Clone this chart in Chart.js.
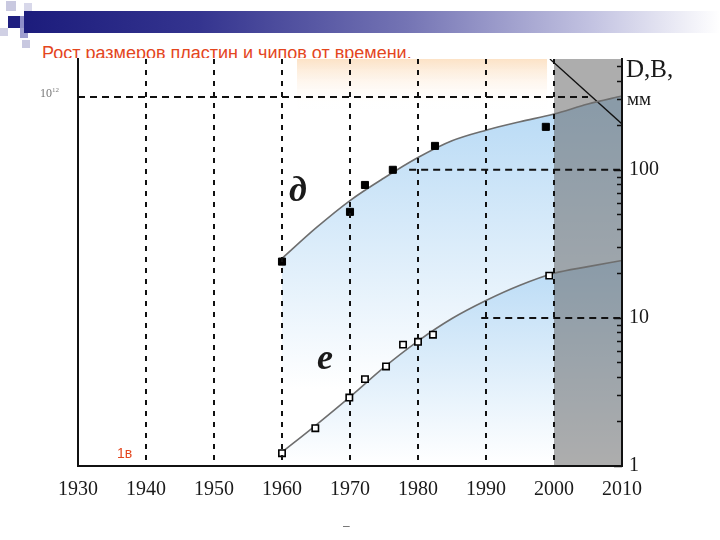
<!DOCTYPE html>
<html>
<head>
<meta charset="utf-8">
<script src="https://cdn.jsdelivr.net/npm/chart.js@4/dist/chart.umd.min.js"></script>
<style>
  html, body { margin: 0; padding: 0; background: #fff; }
  #page { position: relative; width: 720px; height: 540px; overflow: hidden; background: #fff; }
  .sq { position: absolute; }
  #bar { position: absolute; left: 24px; top: 11px; width: 696px; height: 22px;
         background: linear-gradient(to right, #1c1c7c 0%, #34348f 25%, #7474b4 55%, #c4c4e2 82%, #ffffff 100%); }
  #title { position: absolute; left: 42px; top: 43px; font: 18px "Liberation Sans", Arial, sans-serif; color: #e4461e; white-space: nowrap; }
  #sheet { position: absolute; left: 0; top: 58px; width: 720px; height: 482px; background: #fff; }
  #wrap { position: absolute; left: 0; top: 40px; width: 720px; height: 500px; }
  .note { position: absolute; white-space: nowrap; }
  .serif { font-family: "Liberation Serif", "Times New Roman", serif; color: #1a1a1a; }
</style>
</head>
<body>
<div id="page">
  <div class="sq" style="left:6px;top:1px;width:10px;height:10px;background:#c9c9e0"></div>
  <div class="sq" style="left:24px;top:3px;width:8px;height:8px;background:#d8d8ea"></div>
  <div class="sq" style="left:8px;top:16px;width:12px;height:12px;background:#1f1f80"></div>
  <div class="sq" style="left:20px;top:16px;width:12px;height:12px;background:#8e8ec8"></div>
  <div class="sq" style="left:0px;top:28px;width:8px;height:8px;background:#d0d0e4"></div>
  <div class="sq" style="left:20px;top:28px;width:8px;height:10px;background:#a0a0d0"></div>
  <div class="sq" style="left:22px;top:40px;width:8px;height:8px;background:#c8c8e0"></div>
  <div id="bar"></div>
  <div id="title">Рост размеров пластин и чипов от времени.</div>
  <div id="sheet"></div>
  <div id="wrap"><canvas id="chart" width="720" height="500"></canvas></div>

  <div class="note serif" style="left:40px;top:86px;font-size:12px;color:#777">10<sup style="font-size:7px">12</sup></div>
  <div class="note serif" style="left:626px;top:55px;font-size:25px">D,B,</div>
  <div class="note serif" style="left:627px;top:88px;font-size:19px">мм</div>
  <div class="note serif" style="left:289px;top:168px;font-size:36px;font-style:italic;font-weight:bold">д</div>
  <div class="note serif" style="left:317px;top:336px;font-size:36px;font-style:italic;font-weight:bold">e</div>
  <div class="note" style="left:117px;top:445px;font:14px 'Liberation Sans',Arial,sans-serif;color:#e4461e">1в</div>
  <div class="note" style="left:343px;top:519px;font:12px 'Liberation Sans',Arial,sans-serif;color:#666">–</div>
</div>

<script>
// ---- data ----
const xTicks = [1930, 1940, 1950, 1960, 1970, 1980, 1990, 2000, 2010];
const yLabels = [1, 10, 100];

// fitted curves (D = wafer, e = chip)
const curveYears = [1960, 1965, 1970, 1975, 1980, 1985, 1990, 1995, 2000, 2005, 2010];
const curveD = [25.2, 40.5, 62, 88, 121, 157, 185, 211, 238, 278, 315];
const curveE = [1.24, 1.89, 2.93, 4.64, 6.98, 9.9, 13.1, 16.6, 20, 22.2, 24.4];

// measured points
const pointYearsD = [1960, 1970, 1972.2, 1976.3, 1982.5, 1998.8];
const pointsD = [24, 52, 79, 100, 145, 195];
const pointYearsE = [1960, 1964.9, 1969.9, 1972.2, 1975.3, 1977.8, 1980, 1982.2, 1999.3];
const pointsE = [1.22, 1.8, 2.9, 3.86, 4.7, 6.6, 6.9, 7.7, 19.3];

// dashed guide lines
const guideLevels = [310, 100, 10];
const guideFrom = [1930, 1978.7, 1989.3];
const guideTo = [2005, 2010, 2010];

// limit line in the shaded zone
const limitYears = [1999.4, 2010];
const limitValues = [560, 204];

// shaded forecast zone and top glow
const shadeYears = [2000, 2010];
const glowYears = [1962.2, 1999];
const glowLevel = 250;

const yMin = 1, yMax = 560;

const pts = (xs, ys) => xs.map((x, i) => ({ x, y: ys[i] }));

function vGrad(ctx, top, bottom, stops) {
    const { chart } = ctx;
    const area = chart.chartArea;
    if (!area) return 'rgba(0,0,0,0)';
    const g = chart.ctx.createLinearGradient(0, area.top + top, 0, area.top + bottom);
    stops.forEach(s => g.addColorStop(s[0], s[1]));
    return g;
}

const guideSets = guideLevels.map((lv, i) => ({
    data: [{ x: guideFrom[i], y: lv }, { x: guideTo[i], y: lv }],
    borderColor: '#111',
    borderWidth: 2,
    borderDash: [7, 5],
    pointRadius: 0,
    fill: false,
    order: 2
}));

// inward ticks on the right axis
const innerTicks = {
    id: 'innerTicks',
    afterDraw(chart) {
        const sc = chart.scales.y;
        const c = chart.ctx;
        c.save();
        c.strokeStyle = '#111';
        c.lineWidth = 1.5;
        sc.ticks.forEach(t => {
            const v = t.value;
            const m = v / Math.pow(10, Math.floor(Math.log10(v) + 1e-9));
            if (Math.abs(m - Math.round(m)) > 1e-6 || v > yMax) return;
            const y = Math.round(sc.getPixelForValue(v)) + 0.5;
            const len = Math.round(m) === 1 ? 8 : 5;
            c.beginPath();
            c.moveTo(sc.left - len, y);
            c.lineTo(sc.left, y);
            c.stroke();
        });
        c.restore();
    }
};

new Chart(document.getElementById('chart'), {
    type: 'line',
    data: {
        datasets: [
            {
                data: pts(pointYearsD, pointsD),
                showLine: false,
                pointStyle: 'rect',
                pointRadius: 5,
                pointBackgroundColor: '#000',
                pointBorderColor: '#000',
                order: 0
            },
            {
                data: pts(pointYearsE, pointsE),
                showLine: false,
                pointStyle: 'rect',
                pointRadius: 4.5,
                pointBorderWidth: 1.6,
                pointBackgroundColor: '#fff',
                pointBorderColor: '#000',
                order: 0
            },
            {
                data: pts(curveYears, curveD),
                borderColor: '#6e6e6e',
                borderWidth: 1.6,
                cubicInterpolationMode: 'monotone',
                pointRadius: 0,
                fill: false,
                order: 1
            },
            {
                data: pts(curveYears, curveE),
                borderColor: '#6e6e6e',
                borderWidth: 1.6,
                cubicInterpolationMode: 'monotone',
                pointRadius: 0,
                fill: false,
                order: 1
            },
            {
                data: pts(limitYears, limitValues),
                borderColor: '#111',
                borderWidth: 1.3,
                pointRadius: 0,
                fill: false,
                order: 2
            },
            ...guideSets,
            {
                // shaded zone
                data: pts(shadeYears, [yMax, yMax]),
                borderWidth: 0,
                pointRadius: 0,
                fill: 'start',
                backgroundColor: 'rgba(92,92,92,0.5)',
                order: 4
            },
            {
                data: pts(curveYears, curveE),
                borderWidth: 0,
                pointRadius: 0,
                cubicInterpolationMode: 'monotone',
                fill: 'start',
                backgroundColor: ctx => vGrad(ctx, 200, 405, [[0, 'rgb(184,218,245)'], [1, 'rgba(255,255,255,1)']]),
                order: 5
            },
            {
                data: pts(curveYears, curveD),
                borderWidth: 0,
                pointRadius: 0,
                cubicInterpolationMode: 'monotone',
                fill: 'start',
                backgroundColor: ctx => vGrad(ctx, 45, 330, [[0, 'rgb(184,218,245)'], [1, 'rgba(255,255,255,1)']]),
                order: 6
            },
            {
                // warm glow at the top
                data: pts(glowYears, [glowLevel, glowLevel]),
                borderWidth: 0,
                pointRadius: 0,
                fill: 'end',
                backgroundColor: ctx => vGrad(ctx, 0, 50, [[0, 'rgb(252,226,198)'], [1, 'rgba(255,255,255,0)']]),
                order: 7
            }
        ]
    },
    options: {
        responsive: false,
        animation: false,
        layout: { padding: 0 },
        plugins: { legend: { display: false }, tooltip: { enabled: false } },
        scales: {
            x: {
                type: 'linear',
                min: xTicks[0],
                max: xTicks[xTicks.length - 1],
                afterBuildTicks: sc => { sc.ticks = xTicks.map(v => ({ value: v })); },
                afterFit: sc => { sc.height = 74; },
                ticks: {
                    padding: 12,
                    color: '#1a1a1a',
                    font: { family: "'Liberation Serif', serif", size: 20 },
                    maxRotation: 0,
                    autoSkip: false,
                    callback: v => String(v)
                },
                grid: { color: '#111', lineWidth: 2, drawTicks: false, z: 1 },
                border: { display: true, color: '#111', width: 2, dash: [5, 6], z: 1 }
            },
            y: {
                type: 'logarithmic',
                position: 'right',
                min: yMin,
                max: yMax,
                afterFit: sc => { sc.width = 98; },
                ticks: {
                    padding: 7,
                    autoSkip: false,
                    color: '#1a1a1a',
                    font: { family: "'Liberation Serif', serif", size: 20 },
                    callback: v => yLabels.includes(v) ? String(v) : ''
                },
                grid: { display: false, drawTicks: false },
                border: { display: true, color: '#111', width: 2, z: 1 }
            },
            yL: {
                type: 'logarithmic',
                position: 'left',
                min: yMin,
                max: yMax,
                afterFit: sc => { sc.width = 78; },
                ticks: { display: false },
                grid: { display: false, drawTicks: false },
                border: { display: true, color: '#111', width: 2, z: 1 }
            }
        }
    },
    plugins: [innerTicks]
});
</script>
</body>
</html>
